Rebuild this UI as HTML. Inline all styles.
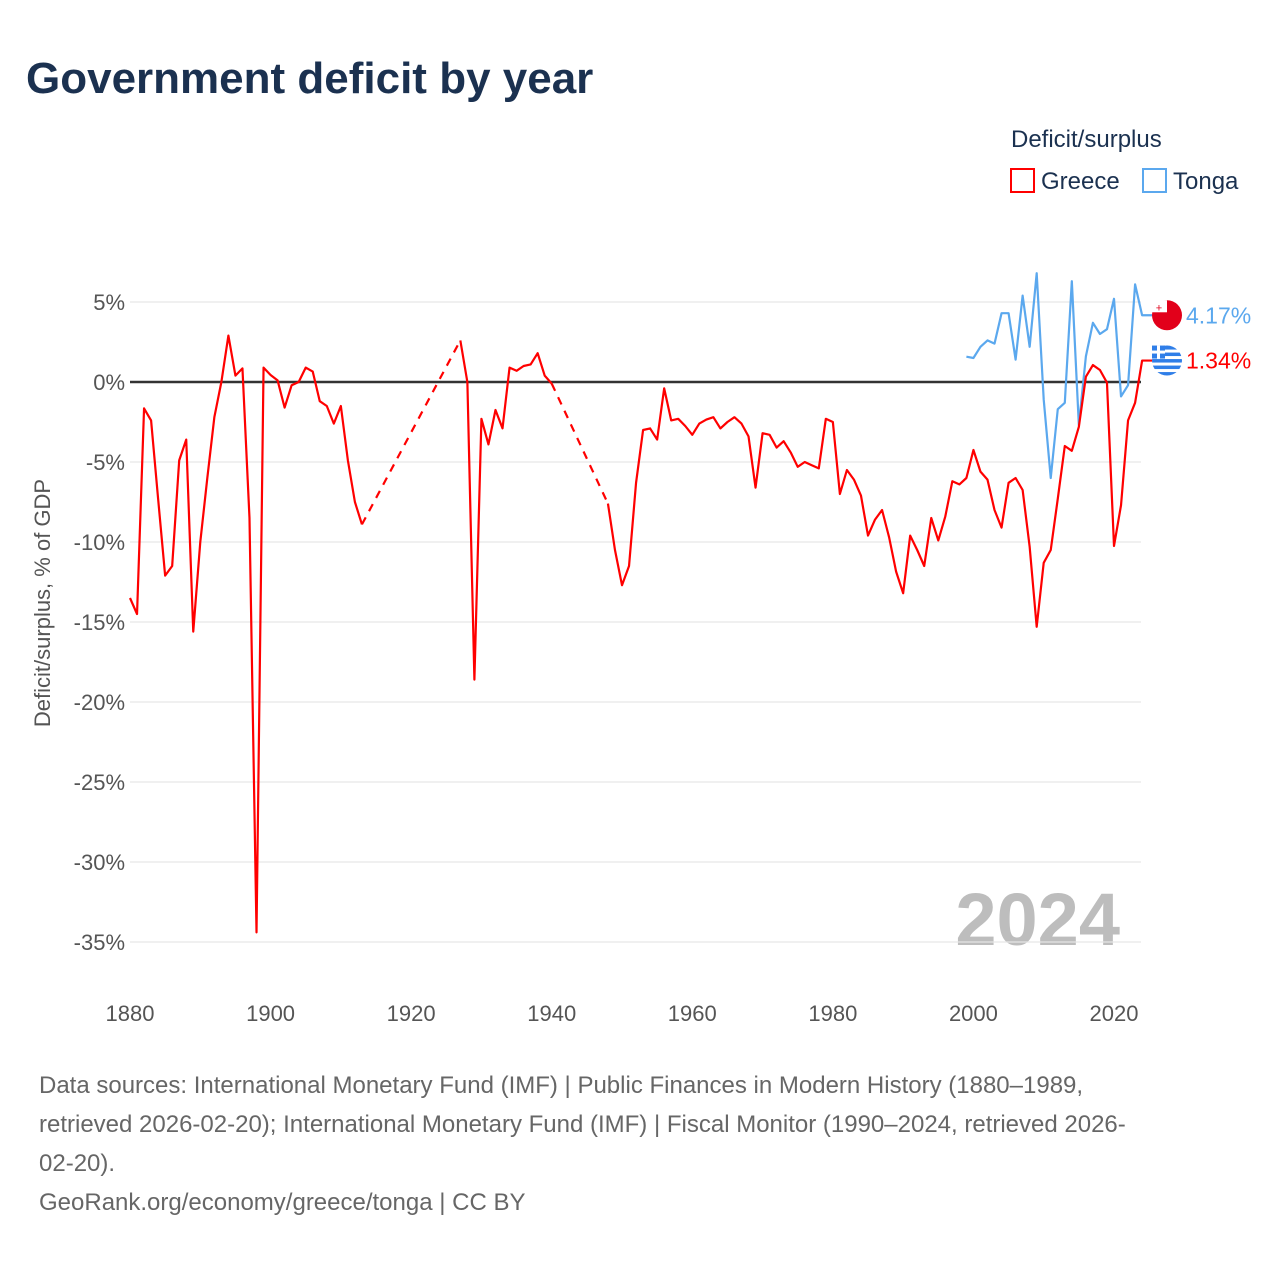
<!DOCTYPE html>
<html><head><meta charset="utf-8">
<style>
body{margin:0;background:#fff;font-family:"Liberation Sans",sans-serif;}
#wrap{position:relative;width:1280px;height:1280px;overflow:hidden;}
</style></head>
<body>
<div id="wrap">
<svg id="chart" width="1280" height="1280">
<text x="26" y="93" font-size="44" font-weight="bold" fill="#1b3150">Government deficit by year</text>
<text x="1011" y="147" font-size="24" fill="#1b3150">Deficit/surplus</text>
<rect x="1011" y="169" width="23" height="23" fill="none" stroke="#ff0000" stroke-width="2"/>
<text x="1041" y="189" font-size="24" fill="#1b3150">Greece</text>
<rect x="1143" y="169" width="23" height="23" fill="none" stroke="#5ba8ee" stroke-width="2"/>
<text x="1173" y="189" font-size="24" fill="#1b3150">Tonga</text>
<text x="1120" y="945" font-size="74" font-weight="bold" fill="#bdbdbd" text-anchor="end">2024</text>
<text transform="translate(50,603) rotate(-90)" font-size="22" fill="#555" text-anchor="middle">Deficit/surplus, % of GDP</text>
<g id="grid"></g><g id="series"></g>
</svg>
<div style="position:absolute;left:39px;top:1066px;white-space:nowrap;font-size:24px;line-height:39px;color:#666;">Data sources: International Monetary Fund (IMF) | Public Finances in Modern History (1880–1989,<br>retrieved 2026-02-20); International Monetary Fund (IMF) | Fiscal Monitor (1990–2024, retrieved 2026-<br>02-20).<br>GeoRank.org/economy/greece/tonga | CC BY</div>
</div>
<script>
const yTicks=[5,0,-5,-10,-15,-20,-25,-30,-35];
const xTicks=[1880,1900,1920,1940,1960,1980,2000,2020];
const greeceStart=1880;
const greeceValues=[-13.5,-14.5,-1.65,-2.4,-7.3,-12.1,-11.5,-4.9,-3.6,-15.6,-10,-6,-2.2,0,2.9,0.4,0.85,-8.5,-34.4,0.9,0.44,0.1,-1.6,-0.2,0,0.9,0.65,-1.2,-1.5,-2.6,-1.5,-4.9,-7.5,-8.9,
null,null,null,null,null,null,null,null,null,null,null,null,null,
2.6,0,-18.6,-2.3,-3.9,-1.75,-2.9,0.9,0.7,1.0,1.1,1.8,0.4,-0.1,
null,null,null,null,null,null,null,
-7.6,-10.5,-12.7,-11.5,-6.3,-3.0,-2.9,-3.6,-0.4,-2.4,-2.3,-2.75,-3.3,-2.6,-2.35,-2.2,-2.9,-2.5,-2.2,-2.6,-3.4,-6.6,-3.2,-3.3,-4.1,-3.7,-4.4,-5.3,-5.0,-5.2,-5.4,-2.3,-2.5,-7.0,-5.5,-6.1,-7.1,-9.6,-8.6,
-8.0,-9.7,-11.85,-13.2,-9.6,-10.5,-11.5,-8.5,-9.9,-8.4,-6.2,-6.4,-6.0,-4.25,-5.6,-6.1,-8.0,-9.1,-6.3,-6.0,-6.75,-10.3,-15.3,-11.3,-10.5,-7.3,-4.0,-4.3,-2.8,0.33,1.06,0.75,-0.04,-10.25,-7.7,-2.4,-1.3,1.34];
const tongaStart=1999;
const tongaValues=[1.58,1.5,2.2,2.6,2.4,4.3,4.3,1.4,5.4,2.2,6.8,-1.1,-6.0,-1.7,-1.3,6.3,-2.7,1.6,3.7,3.0,3.3,5.2,-0.9,-0.2,6.1,4.17];
const NS="http://www.w3.org/2000/svg";
function xS(yr){return 130+(yr-1880)*984/140;}
function yS(v){return 382-v*16;}
function mk(tag,attrs,parent){const e=document.createElementNS(NS,tag);for(const k in attrs)e.setAttribute(k,attrs[k]);parent.appendChild(e);return e;}
const grid=document.getElementById('grid'),series=document.getElementById('series');
yTicks.forEach(t=>{
  const l=mk('line',{x1:130,x2:1141,y1:yS(t),y2:yS(t),stroke:t===0?'#333':'#e6e6e6','stroke-width':t===0?2.5:1.2},grid);
  
  
  const tx=mk('text',{x:125,y:yS(t)+8,'font-size':22,fill:'#555','text-anchor':'end'},grid);
  tx.textContent=t+'%';
  
  
});
xTicks.forEach(t=>{
  const tx=mk('text',{x:xS(t),y:1021,'font-size':22,fill:'#555','text-anchor':'middle'},grid);
  tx.textContent=t;
  
  
});
function drawSeries(start,vals,color,name){
  let solid='',dash='',prev=null;
  vals.forEach((v,i)=>{
    if(v===null){return;}
    const x=xS(start+i),y=yS(v);
    if(prev&&prev.i!==i-1){dash+='M'+prev.x+','+prev.y+'L'+x+','+y;}
    solid+=(prev&&prev.i===i-1?'L':'M')+x+','+y;
    prev={x,y,i};
  });
  if(dash){const d=mk('path',{d:dash,fill:'none',stroke:color,'stroke-width':2.2,'stroke-dasharray':'8,7'},series);
    
    }
  solid+='L'+(prev.x+10)+','+prev.y;
  const p=mk('path',{d:solid,fill:'none',stroke:color,'stroke-width':2.2,'stroke-linejoin':'round'},series);
  
  
  return prev;
}
const tl=drawSeries(tongaStart,tongaValues,'#5ba8ee','tonga');
const gl=drawSeries(greeceStart,greeceValues,'#ff0000','greece');
function endLabel(last,val,color,name,flag){
  const cy=last.y;
  const g=mk('g',{},series);
  
  
  if(flag==='to'){
    mk('circle',{cx:1167,cy:cy,r:15,fill:'#e2001a'},g);
    mk('rect',{x:1152,y:cy-15,width:15,height:12,fill:'#fff'},g);
    mk('text',{x:1159,y:cy-4,'font-size':11,fill:'#e2001a','text-anchor':'middle'},g).textContent='+';
  }else{
    mk('circle',{cx:1167,cy:cy,r:15,fill:'#2f7ee8'},g);
    for(let k=0;k<4;k++)mk('rect',{x:1152,y:cy-11+k*6.5,width:30,height:3,fill:'#fff'},g);
    mk('rect',{x:1152,y:cy-15,width:13,height:13,fill:'#2f7ee8'},g);
    mk('rect',{x:1152,y:cy-10,width:13,height:3,fill:'#fff'},g);
    mk('rect',{x:1157,y:cy-15,width:3,height:13,fill:'#fff'},g);
  }
  const t=mk('text',{x:1186,y:cy+8,'font-size':23,fill:color},series);
  t.textContent=val.toFixed(2)+'%';
  
  
}
endLabel(tl,tongaValues[tongaValues.length-1],'#5ba8ee','tonga','to');
endLabel(gl,greeceValues[greeceValues.length-1],'#ff0000','greece','gr');
</script>
</body></html>
